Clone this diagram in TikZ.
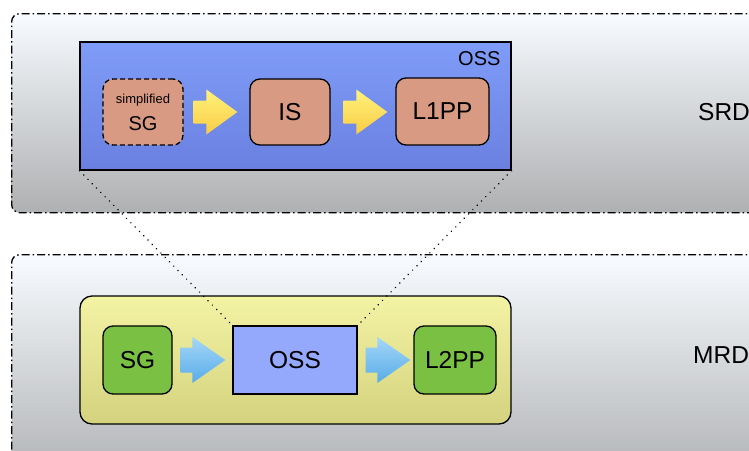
\documentclass[tikz,border=0pt]{standalone}
\usepackage{fontspec}
\setmainfont{Liberation Sans}
\usetikzlibrary{calc}
\definecolor{salmonfill}{HTML}{D99A84}
\definecolor{greenfill}{HTML}{7AC143}
\definecolor{ossfill}{HTML}{94A8FC}
\definecolor{osstop}{HTML}{7F9CF8}
\definecolor{ossbot}{HTML}{6A80E0}
\definecolor{ylwtop}{HTML}{F3F3A4}
\definecolor{ylwbot}{HTML}{D4D27E}
\definecolor{outtop}{HTML}{F8FBFF}
\definecolor{outmid}{HTML}{DCE3EB}
\definecolor{outbot}{HTML}{AEB0B2}
\definecolor{yarrtop}{HTML}{FFF27C}
\definecolor{yarrbot}{HTML}{F8CC44}
\definecolor{barrtop}{HTML}{A4D6F8}
\definecolor{barrbot}{HTML}{58ACE8}
\newcommand\blockarrow[8]{%
  \path[#5] let \p1=($(#1.east)+(#3pt,0)$), \p2=($(#2.west)-(#4pt,0)$) in
  (\x1,\y1+#8pt) -- (\x2-#6pt,\y1+#8pt) -- (\x2-#6pt,\y1+#7pt) -- (\x2,\y1)
  -- (\x2-#6pt,\y1-#7pt) -- (\x2-#6pt,\y1-#8pt) -- (\x1,\y1-#8pt) -- cycle;}
\begin{document}
\begin{tikzpicture}[x=1pt,y=-1pt,
  outerbox/.style={draw=black, line width=1.3pt, rounded corners=8pt,
    dash pattern=on 8pt off 3pt on 1.5pt off 3pt,
    top color=outtop, middle color=outmid, bottom color=outbot,
    inner sep=0pt, anchor=north west},
  procbox/.style={draw=black, line width=1.3pt, rounded corners=10pt,
    fill=salmonfill, inner sep=0pt, font=\fontsize{24.5}{28}\selectfont},
  greenbox/.style={draw=black, line width=1.3pt, rounded corners=10pt,
    fill=greenfill, inner sep=0pt, font=\fontsize{24.5}{28}\selectfont},
  container/.style={draw=black, line width=1.3pt, inner sep=0pt},
  label/.style={font=\fontsize{24.5}{28}\selectfont, inner sep=0pt, anchor=west},
  yarrow/.style={top color=yarrtop, bottom color=yarrbot},
  barrow/.style={top color=barrtop, bottom color=barrbot},
  zoomline/.style={line width=1.6pt, dash pattern=on 0.1pt off 6pt, line cap=round}
]
\useasboundingbox (0,0) rectangle (749,450);
\begin{scope}
  \clip (0,0) rectangle (749,450);
  \node[outerbox, minimum width=770pt, minimum height=199pt] (srd) at (11,13) {};
  \node[outerbox, minimum width=770pt, minimum height=230pt] (mrd) at (11,254) {};
\end{scope}
\node[label] (srdlabel) at (698,112) {SRD};
\node[label] (mrdlabel) at (693,355) {MRD};

% SRD: OSS container
\node[container, top color=osstop, bottom color=ossbot,
  minimum width=431pt, minimum height=128pt] (osscont) at (295.5,106) {};
\node[font=\fontsize{20}{22}\selectfont, inner sep=0pt, anchor=north east]
  (osslabel) at ($(osscont.north east)+(-11pt,-10pt)$) {OSS};
\node[procbox, dash pattern=on 5pt off 3pt, minimum width=80pt, minimum height=66pt,
  align=center] (ssg) at (143,112)
  {\fontsize{13}{15}\selectfont simplified\\[-1pt]\fontsize{20}{22}\selectfont SG};
\node[procbox, minimum width=80pt, minimum height=66pt] (is) at (290,112) {IS};
\node[procbox, minimum width=93pt, minimum height=67pt] (l1pp) at (442.5,111.5) {L1PP};
\blockarrow{ssg}{is}{10}{12}{yarrow}{31}{22.5}{11.5}
\blockarrow{is}{l1pp}{13}{8}{yarrow}{31}{22.5}{11.5}

% MRD: pipeline container
\node[container, rounded corners=12pt, top color=ylwtop, bottom color=ylwbot,
  minimum width=431pt, minimum height=128pt] (mrdcont) at (295.5,360) {};
\node[greenbox, minimum width=69pt, minimum height=68pt] (sg) at (137.5,360) {SG};
\node[greenbox, minimum width=82pt, minimum height=68pt] (l2pp) at (455,360) {L2PP};
\node[container, fill=ossfill, minimum width=124pt, minimum height=68pt,
  font=\fontsize{24.5}{28}\selectfont] (oss) at (295,360) {OSS};
\blockarrow{sg}{oss}{8}{7}{barrow}{33}{23}{12.5}
\blockarrow{oss}{l2pp}{8}{3}{barrow}{33}{23}{12.5}

% zoom lines
\draw[zoomline] (osscont.south west) -- (oss.north west);
\draw[zoomline] (osscont.south east) -- (oss.north east);
\end{tikzpicture}
\end{document}
